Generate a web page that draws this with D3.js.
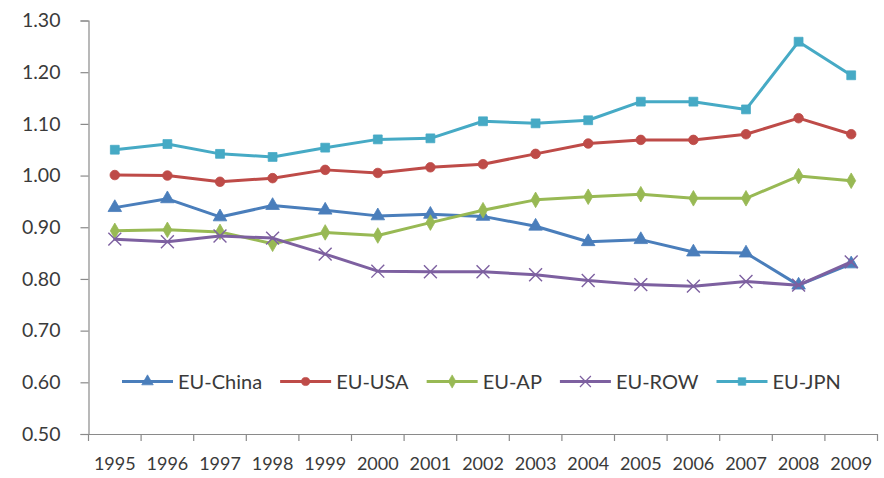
<!DOCTYPE html>
<html>
<head>
<meta charset="utf-8">
<script src="https://cdn.jsdelivr.net/npm/d3@7"></script>
<style>
  html, body { margin: 0; padding: 0; background: #fff; }
  svg { display: block; }
  text { font-family: Lato, "Open Sans", sans-serif; fill: #3a3a3a; }
</style>
</head>
<body>
<svg id="chart" width="884" height="478"></svg>
<script>
// Years on the category axis
const years = ["1995","1996","1997","1998","1999","2000","2001","2002","2003","2004","2005","2006","2007","2008","2009"];

// Ratio series per trade pair
const euChina = [0.938,0.955,0.920,0.942,0.933,0.922,0.925,0.921,0.902,0.872,0.876,0.852,0.850,0.788,0.829];
const euUSA   = [1.001,1.000,0.988,0.995,1.011,1.005,1.016,1.022,1.042,1.062,1.069,1.069,1.080,1.111,1.080];
const euAP    = [0.893,0.895,0.891,0.868,0.890,0.884,0.909,0.933,0.953,0.959,0.964,0.956,0.956,0.999,0.990];
const euROW   = [0.877,0.872,0.883,0.879,0.848,0.815,0.814,0.814,0.808,0.797,0.789,0.786,0.795,0.788,0.833];
const euJPN   = [1.050,1.061,1.042,1.036,1.054,1.070,1.072,1.105,1.101,1.107,1.143,1.143,1.128,1.259,1.194];

const seriesNames = ["EU-China","EU-USA","EU-AP","EU-ROW","EU-JPN"];
const seriesValues = [euChina, euUSA, euAP, euROW, euJPN];
const seriesColors = ["#4a7ebb","#be4b48","#98b954","#7d60a0","#46aac5"];
const seriesMarkers = ["triangle","circle","diamond","cross","square"];

// Value axis ticks
const yTicks = [0.5,0.6,0.7,0.8,0.9,1.0,1.1,1.2,1.3];

const svg = d3.select("#chart");
const plot = { left: 88.5, right: 877.5, top: 20.5, bottom: 434 };

const x = d3.scaleBand().domain(years).range([plot.left, plot.right]).padding(0);
const y = d3.scaleLinear().domain([0.5, 1.3]).range([plot.bottom, plot.top]);

const axisColor = "#8a8a8a";

// Value axis
const yAxis = svg.append("g")
  .attr("transform", `translate(${plot.left},0)`)
  .call(d3.axisLeft(y).tickValues(yTicks).tickFormat(d3.format(".2f")).tickSize(8).tickPadding(20));
yAxis.select(".domain").attr("stroke", axisColor).attr("stroke-width", 1.2);
yAxis.selectAll(".tick line").attr("stroke", axisColor).attr("stroke-width", 1.2);
yAxis.selectAll(".tick text")
  .style("font-family", "Lato, 'Open Sans', sans-serif")
  .style("font-size", "19.5px").attr("fill", "#3a3a3a");

// Category axis: labels centred in each band, tick marks between bands
const xAxis = svg.append("g")
  .attr("transform", `translate(0,${plot.bottom})`)
  .call(d3.axisBottom(x).tickSize(0).tickPadding(23));
xAxis.select(".domain").attr("stroke", axisColor).attr("stroke-width", 1.2);
xAxis.selectAll(".tick text")
  .style("font-family", "Lato, 'Open Sans', sans-serif")
  .style("font-size", "18px").attr("fill", "#3a3a3a");

const edges = years.map(d => x(d)).concat([x(years[years.length - 1]) + x.bandwidth()]);
xAxis.selectAll(".sep").data(edges).enter().append("line")
  .attr("class", "sep")
  .attr("x1", d => d).attr("x2", d => d)
  .attr("y1", 0).attr("y2", 7)
  .attr("stroke", axisColor).attr("stroke-width", 1.2);

// Marker shapes
const symbolFor = {
  triangle: d3.symbol().type(d3.symbolTriangle).size(80),
  circle: d3.symbol().type(d3.symbolCircle).size(72),
  diamond: d3.symbol().type(d3.symbolDiamond).size(70),
  square: d3.symbol().type(d3.symbolSquare).size(78),
  cross: d3.symbol().type(d3.symbolX).size(110)
};

function drawMarker(g, kind, color, scale) {
  const p = g.append("path").attr("d", symbolFor[kind]());
  if (scale) p.attr("transform", `scale(${scale})`);
  if (kind === "cross") {
    p.attr("fill", "none").attr("stroke", color).attr("stroke-width", 1.4);
  } else {
    p.attr("fill", color).attr("stroke", color).attr("stroke-width", 0.8);
  }
  return p;
}

const line = d3.line()
  .x((d, i) => x(years[i]) + x.bandwidth() / 2)
  .y(d => y(d));

seriesValues.forEach((vals, s) => {
  const color = seriesColors[s];
  const g = svg.append("g");
  g.append("path")
    .datum(vals)
    .attr("d", line)
    .attr("fill", "none")
    .attr("stroke", color)
    .attr("stroke-width", 3)
    .attr("stroke-linejoin", "round")
    .attr("stroke-linecap", "round");
  vals.forEach((v, i) => {
    const m = g.append("g")
      .attr("transform", `translate(${x(years[i]) + x.bandwidth() / 2},${y(v)})`);
    drawMarker(m, seriesMarkers[s], color);
  });
});

// Legend row
const legend = svg.append("g").attr("transform", "translate(122,381.5)");
let lx = 0;
seriesNames.forEach((name, s) => {
  const item = legend.append("g").attr("transform", `translate(${lx},0)`);
  item.append("line")
    .attr("x1", 0).attr("x2", 51).attr("y1", 0).attr("y2", 0)
    .attr("stroke", seriesColors[s]).attr("stroke-width", 3);
  const m = item.append("g").attr("transform", "translate(25.5,0)");
  drawMarker(m, seriesMarkers[s], seriesColors[s], 0.85);
  const t = item.append("text")
    .attr("x", 56).attr("y", 0).attr("dy", "0.36em")
    .style("font-size", "20px")
    .text(name);
  lx += 56 + t.node().getComputedTextLength() + 18;
});
</script>
</body>
</html>
